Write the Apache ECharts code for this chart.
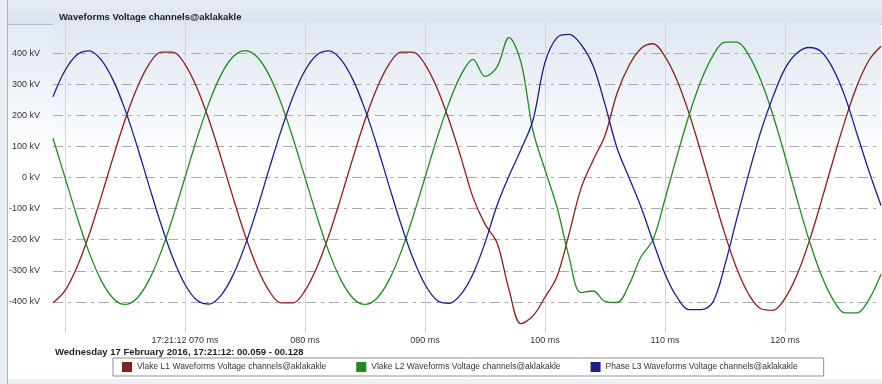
<!DOCTYPE html>
<html>
<head>
<meta charset="utf-8">
<script src="https://cdn.jsdelivr.net/npm/echarts@6/dist/echarts.min.js"></script>
<style>
  html, body { margin: 0; padding: 0; background: #fff; }
</style>
</head>
<body>
<div id="wave_chart" style="width: 882px; height: 384px"></div>
<script>
// time in ms after 17:21:12
var times = [59, 60, 61, 62, 63, 64, 65, 66, 67, 68, 69, 70, 71, 72, 73, 74, 75, 76, 77, 78,
  79, 80, 81, 82, 83, 84, 85, 86, 87, 88, 89, 90, 91, 92, 93, 94, 95, 96, 97, 98,
  99, 100, 101, 102, 103, 104, 105, 106, 107, 108, 109, 110, 111, 112, 113, 114, 115, 116, 117, 118,
  119, 120, 121, 122, 123, 124, 125, 126, 127, 128];

// kV
var redData = [-403, -364, -288, -185, -64, 64, 185, 288, 364, 403, 403, 364, 288, 185, 64, -64, -185, -288, -364, -403,
  -403, -364, -288, -185, -64, 64, 185, 288, 364, 403, 403, 364, 288, 185, 64, -64, -150, -210, -360, -470,
  -445, -385, -318, -182, -35, 55, 135, 270, 360, 415, 430, 389, 313, 207, 80, -54, -183, -295, -377, -422,
  -427, -389, -313, -207, -80, 54, 183, 295, 377, 422];

var greenData = [126, 0, -126, -240, -330, -388, -408, -388, -330, -240, -126, 0, 126, 240, 330, 388, 408, 388, 330, 240,
  126, 0, -126, -240, -330, -388, -408, -388, -330, -240, -126, 0, 126, 240, 330, 380, 325, 355, 450, 370,
  150, 25, -95, -255, -370, -365, -398, -402, -345, -255, -200, -69, 69, 200, 311, 392, 435, 435, 392, 311,
  200, 69, -69, -200, -311, -392, -435, -435, -392, -311];

var blueData = [260, 344, 395, 407, 379, 314, 219, 102, -26, -150, -260, -344, -395, -407, -379, -314, -219, -102, 26, 150,
  260, 344, 395, 407, 379, 314, 219, 102, -26, -150, -260, -344, -395, -405, -375, -310, -210, -90, 5, 90,
  185, 370, 450, 460, 428, 360, 235, 95, 0, -95, -205, -310, -385, -425, -425, -400, -280, -130, 15, 150,
  260, 350, 400, 418, 405, 350, 260, 140, 20, -90];

var seriesNames = [
  "Vlake L1 Waveforms Voltage channels@aklakakle",
  "Vlake L2 Waveforms Voltage channels@aklakakle",
  "Phase L3 Waveforms Voltage channels@aklakakle",
];
var seriesColors = ["#8b1d1d", "#1f8a1f", "#1d1d8c"];

var yTicks = [-500, 100, 500]; // min, interval, max

function pairs(ys) {
  return ys.map(function (v, i) { return [times[i], v]; });
}

var myChart = echarts.init(document.getElementById("wave_chart"));

var fontFam = "Liberation Sans";

let option = {
  backgroundColor: "#ffffff",
  animation: false,
  title: {
    text: "Waveforms Voltage channels@aklakakle",
    left: 54,
    top: 7,
    textStyle: { fontFamily: fontFam, fontSize: 9.5, fontWeight: "bold", color: "#222" },
  },
  graphic: [
    // left frame strip
    { type: "rect", z: -10, shape: { x: 0, y: 0, width: 7, height: 384 }, style: { fill: "#e8edf4" } },
    { type: "line", z: -9, shape: { x1: 7.5, y1: 0, x2: 7.5, y2: 384 }, style: { stroke: "#a9b1bc", lineWidth: 1 } },
    // title bar
    {
      type: "rect", z: -10, shape: { x: 8, y: 0, width: 874, height: 24 },
      style: {
        fill: {
          type: "linear", x: 0, y: 0, x2: 0, y2: 1,
          colorStops: [{ offset: 0, color: "#e6ecf4" }, { offset: 1, color: "#d9e2ed" }],
        },
      },
    },
    { type: "line", z: -9, shape: { x1: 8, y1: 24.5, x2: 882, y2: 24.5 }, style: { stroke: "#b3bcc8", lineWidth: 1 } },
    // soft gradient behind the axis labels, like the plot
    {
      type: "rect", z: -10, shape: { x: 8, y: 25, width: 45, height: 140 },
      style: {
        fill: {
          type: "linear", x: 0, y: 0, x2: 0, y2: 1,
          colorStops: [{ offset: 0, color: "#e3eaf3" }, { offset: 1, color: "#ffffff" }],
        },
      },
    },
    // bottom strip
    { type: "rect", z: -10, shape: { x: 8, y: 379, width: 874, height: 5 }, style: { fill: "#edf1f6" } },
    {
      type: "text", left: 55, top: 347,
      style: {
        text: "Wednesday 17 February 2016, 17:21:12: 00.059 - 00.128",
        fontFamily: fontFam, fontSize: 9.5, fontWeight: "bold", fill: "#222",
      },
    },
  ],
  legend: {
    left: 113,
    top: 358,
    padding: [4, 26, 4, 9],
    itemGap: 30,
    itemWidth: 10,
    itemHeight: 10,
    icon: "rect",
    borderColor: "#8e8e8e",
    borderWidth: 1,
    backgroundColor: "#ffffff",
    textStyle: { fontFamily: fontFam, fontSize: 8.5, color: "#333" },
    data: seriesNames,
  },
  grid: {
    left: 53,
    right: 1,
    top: 22,
    bottom: 51,
    show: true,
    borderWidth: 0,
    backgroundColor: {
      type: "linear", x: 0, y: 0, x2: 0, y2: 1,
      colorStops: [
        { offset: 0, color: "#dfe7f2" },
        { offset: 0.45, color: "#ffffff" },
        { offset: 1, color: "#ffffff" },
      ],
    },
  },
  xAxis: {
    type: "value",
    min: 59,
    max: 128,
    axisLine: { show: false },
    axisTick: { show: false },
    axisLabel: {
      showMinLabel: false,
      showMaxLabel: false,
      margin: 3,
      fontFamily: fontFam,
      fontSize: 9,
      color: "#333",
      formatter: function (v) {
        if (v < 70) return "";
        var s = ("00" + v).slice(-3) + " ms";
        return v === 70 ? "17:21:12 " + s : s;
      },
    },
    splitLine: {
      show: true,
      showMinLine: false,
      showMaxLine: false,
      lineStyle: { color: "#d4d4d4", width: 1, type: "solid" },
    },
  },
  yAxis: {
    type: "value",
    min: yTicks[0],
    max: yTicks[2],
    interval: yTicks[1],
    axisLine: { show: false },
    axisTick: { show: false },
    axisLabel: {
      showMinLabel: false,
      showMaxLabel: false,
      margin: 13,
      fontFamily: fontFam,
      fontSize: 9,
      color: "#333",
      formatter: function (v) { return v + " kV"; },
    },
    splitLine: {
      showMinLine: false,
      showMaxLine: false,
      lineStyle: { color: "#aaaaaa", width: 1, type: [10, 5, 3, 5] },
    },
  },
  series: [
    { name: seriesNames[0], type: "line", data: pairs(redData) },
    { name: seriesNames[1], type: "line", data: pairs(greenData) },
    { name: seriesNames[2], type: "line", data: pairs(blueData) },
  ].map(function (s, i) {
    s.symbol = "none";
    s.smooth = 0.35;
    s.color = seriesColors[i];
    s.lineStyle = { width: 1.3, color: seriesColors[i] };
    return s;
  }),
};

myChart.setOption(option);
</script>
</body>
</html>
